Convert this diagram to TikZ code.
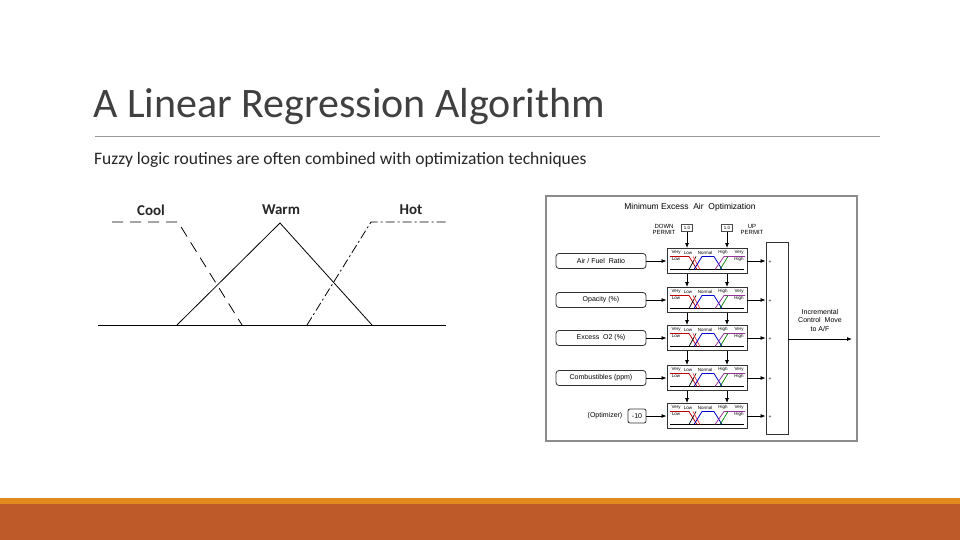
\documentclass[tikz,border=0pt]{standalone}
\usepackage{fontspec}
\setmainfont{Carlito}
\newfontfamily\arialf{Liberation Sans}
\usetikzlibrary{arrows.meta}
\definecolor{barorange}{HTML}{E08A1E}
\definecolor{barbrown}{HTML}{BE5A2A}
\tikzset{
 lab/.style={font=\fontsize{15}{15}\selectfont\bfseries, text=black!85},
 fz/.style={draw=black!80, line width=0.9pt, minimum width=80pt, minimum height=25pt, inner sep=0pt},
 inbox/.style={draw=black!80, line width=0.8pt, rounded corners=3pt, minimum width=90pt, minimum height=15pt, inner sep=0pt, font=\arialf\fontsize{7}{7}\selectfont},
 arr/.style={-{Latex[length=5pt,width=4pt]}, line width=0.8pt},
 tiny/.style={font=\arialf\fontsize{4.5}{4.5}\selectfont, inner sep=0pt},
 small/.style={font=\arialf\fontsize{6}{6}\selectfont, inner sep=0pt, align=center}
}
\begin{document}
\begin{tikzpicture}[x=1pt,y=-1pt]
\useasboundingbox (0,0) rectangle (960,540);
\fill[white] (0,0) rectangle (960,540);
% title
\node[anchor=west, inner sep=0pt, font=\fontsize{42}{42}\selectfont, text=black!75] (title) at (93,107) {A Linear Regression Algorithm};
\draw[black!40, line width=0.8pt] (95,136) -- (880,136);
\node[anchor=west, inner sep=0pt, font=\fontsize{17.5}{17.5}\selectfont, text=black!85] (sub) at (94,160) {Fuzzy logic routines are often combined with optimization techniques};
% bars
\fill[barorange] (0,498) rectangle (960,504);
\fill[barbrown] (0,504) rectangle (960,540);
% left fuzzy diagram
\draw[line width=0.9pt] (98,325) -- (446,325);
\draw[line width=0.8pt] (177,325) -- (280,223) -- (372,325);
\draw[line width=0.8pt, dash pattern=on 11pt off 7pt] (112,222) -- (178,222) -- (242,325);
\draw[line width=0.8pt, dash pattern=on 9pt off 3pt on 2pt off 3pt] (307,325) -- (371,222) -- (448,222);
\node[lab] (cool) at (151,210) {Cool};
\node[lab] (warm) at (281,210) {Warm};
\node[lab] (hot) at (411,210) {Hot};
% right diagram frame
\draw[black!45, line width=2pt, fill=white] (546,196) rectangle (857,441);
\node[font=\arialf\fontsize{8.5}{8.5}\selectfont] (rtitle) at (690,207) {Minimum Excess\ \ Air\ \ Optimization};
\node[small] (dp) at (664,229) {DOWN\\PERMIT};
\node[small] (up) at (752,229) {UP\\PERMIT};
\node[draw=black!70, line width=0.5pt, tiny, minimum width=11pt, minimum height=7pt] (p1) at (687,228) {1.0};
\node[draw=black!70, line width=0.5pt, tiny, minimum width=11pt, minimum height=7pt] (p2) at (727,228) {1.0};
% summing block
\node[draw=black!80, line width=0.9pt, minimum width=22pt, minimum height=192pt, inner sep=0pt] (sum) at (777,338) {};
\coordinate (outend) at (852,339);
\draw[arr] (sum.east |- outend) -- (outend);
\node[small, font=\arialf\fontsize{7}{8.5}\selectfont] (inc) at (820,320) {Incremental\\Control\ \ Move\\to A/F};
% rows
\foreach \i/\y/\txt in {1/261/{Air / Fuel\ \ Ratio},2/300/{Opacity (\%)},3/338/{Excess\ \ O2 (\%)},4/378/{Combustibles (ppm)},5/416/{}}{
  \node[fz] (f\i) at (707,\y) {};
  \begin{scope}[shift={(667,\y-12.5)}]
    \draw[line width=0.6pt] (3,21) -- (77,21);
    \draw[red!75!black, line width=0.8pt] (3,8) -- (22,8) -- (30,21);
    \draw[black, line width=0.7pt] (22,21) -- (29,8) ;
    \draw[red!80, line width=0.7pt] (26,8) -- (33,21);
    \draw[blue!80!black, line width=0.8pt] (27,21) -- (35,8) -- (47,8) -- (55,21);
    \draw[violet!80, line width=0.8pt] (48,21) -- (57,8) -- (78,8);
    \draw[green!50!black, line width=0.7pt] (53,21) -- (61,8);
    \node[tiny] at (9,4) {Very};
    \node[tiny] at (21,4) {Low};
    \node[tiny] at (38,4) {Normal};
    \node[tiny] at (56,4) {High};
    \node[tiny] at (72,4) {Very};
    \node[tiny] at (9,10.5) {Low};
    \node[tiny] at (72,10.5) {High};
  \end{scope}
  \coordinate (s\i) at (sum.west |- f\i.east);
  \draw[arr] (f\i.east) -- (s\i);
  \node[font=\arialf\fontsize{5}{5}\selectfont, inner sep=0pt] at (770,\y+1) {+};
}
\foreach \i/\txt in {1/{Air / Fuel\ \ Ratio},2/{Opacity (\%)},3/{Excess\ \ O2 (\%)},4/{Combustibles (ppm)}}{
  \node[inbox] (in\i) at (601,0 |- f\i) {\txt};
  \draw[arr] (in\i.east) -- (f\i.west);
}
\node[font=\arialf\fontsize{7}{7}\selectfont, inner sep=0pt] (opt) at (605,416) {(Optimizer)};
\node[draw=black!80, line width=0.8pt, rounded corners=2pt, minimum width=18pt, minimum height=14pt, inner sep=0pt, font=\arialf\fontsize{7}{7}\selectfont] (in5) at (637,416) {-10};
\draw[arr] (in5.east) -- (f5.west);
% vertical permit arrows
\draw[arr] (p1.south) -- (f1.north -| p1);
\draw[arr] (p2.south) -- (f1.north -| p2);
\foreach \a/\b in {1/2,2/3,3/4,4/5}{
  \draw[arr] (f\a.south -| p1) -- (f\b.north -| p1);
  \draw[arr] (f\a.south -| p2) -- (f\b.north -| p2);
}
\end{tikzpicture}
\end{document}
